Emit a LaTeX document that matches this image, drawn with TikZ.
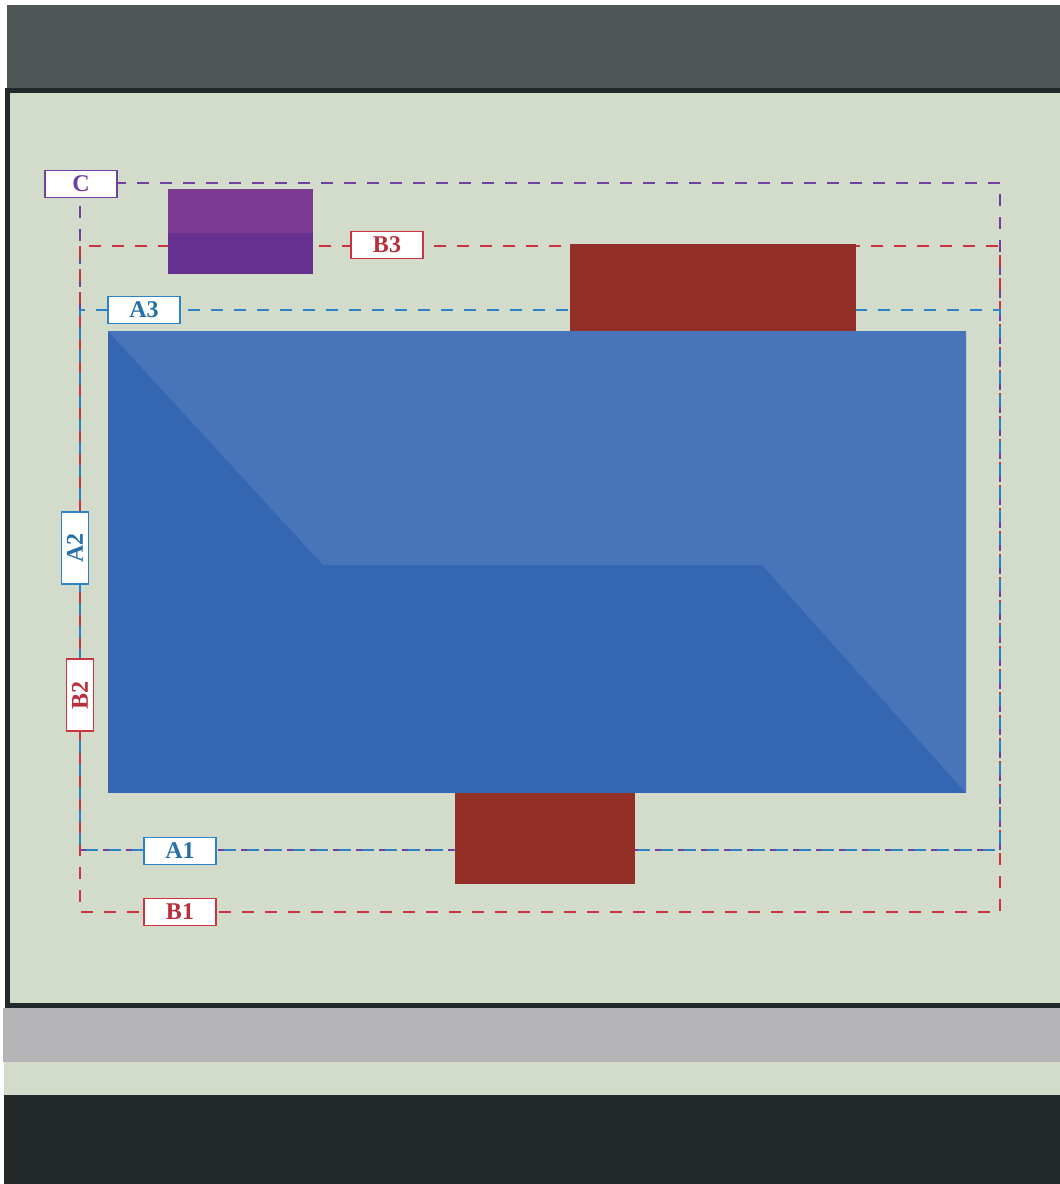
\documentclass[tikz,border=0pt]{standalone}
\usepackage{fontspec}
\setmainfont{Liberation Serif}
\usetikzlibrary{positioning}
\definecolor{fondoPanel}{HTML}{D3DCCB}
\definecolor{bordePanel}{HTML}{232828}
\definecolor{bandaSuperior}{HTML}{505656}
\definecolor{bandaGris}{HTML}{B4B3B5}
\definecolor{bandaOscura}{HTML}{232928}
\definecolor{azulOscuro}{HTML}{3466B2}
\definecolor{azulClaro}{HTML}{4874B9}
\definecolor{rojoBloque}{HTML}{922F26}
\definecolor{moradoClaro}{HTML}{7C3A93}
\definecolor{moradoOscuro}{HTML}{65308F}
\definecolor{colZonaA}{HTML}{2A84C6}
\definecolor{colZonaB}{HTML}{CC3340}
\definecolor{colZonaC}{HTML}{7040A0}
\tikzset{
  lineaZona/.style={line width=2.2pt, dash pattern=on 12pt off 11pt},
  etiquetaBase/.style={
    fill=white, line width=1.8pt,
    minimum width=72pt, minimum height=27pt, inner sep=0pt,
    font=\fontsize{24}{24}\selectfont\bfseries
  },
  etiquetaA/.style={etiquetaBase, draw=colZonaA, text=colZonaA!85!black},
  etiquetaB/.style={etiquetaBase, draw=colZonaB, text=colZonaB!90!black},
  etiquetaC/.style={etiquetaBase, draw=colZonaC, text=colZonaC},
}
\begin{document}
\begin{tikzpicture}[x=1pt, y=-1pt]
  \useasboundingbox (0,0) rectangle (1060,1184);
  \fill[white] (0,0) rectangle (1060,1184);
  % bandas de fondo
  \fill[bandaSuperior] (7,5) rectangle (1060,90);
  \fill[bandaGris] (3,1008) rectangle (1060,1062);
  \fill[fondoPanel] (4,1062) rectangle (1060,1095);
  \fill[bandaOscura] (4,1095) rectangle (1060,1184);
  \filldraw[fill=fondoPanel, draw=bordePanel, line width=5pt]
    (7.5,90.5) rectangle (1070,1005);

  % zonas punteadas
  \draw[lineaZona, colZonaC] (80,183) rectangle (1000,850);
  \draw[lineaZona, colZonaB] (80,246) rectangle (1000,912);
  \draw[lineaZona, colZonaA, dash phase=6pt] (80,310) rectangle (1000,850);

  % bloques
  \fill[azulOscuro] (108,331) rectangle (966,793);
  \fill[azulClaro] (108,331) -- (966,331) -- (966,793) -- (762,565)
    -- (323,565) -- cycle;
  \fill[rojoBloque] (570,244) rectangle (856,331);
  \fill[rojoBloque] (455,793) rectangle (635,884);
  \fill[moradoClaro] (168,189) rectangle (313,233);
  \fill[moradoOscuro] (168,233) rectangle (313,274);

  % etiquetas
  \node[etiquetaC] (c) at (81,184) {C};
  \node[etiquetaB] (b3) at (387,245) {B3};
  \node[etiquetaA] (a3) at (144,310) {A3};
  \node[etiquetaA, rotate=90] (a2) at (75,548) {A2};
  \node[etiquetaB, rotate=90] (b2) at (80,695) {B2};
  \node[etiquetaA] (a1) at (180,851) {A1};
  \node[etiquetaB] (b1) at (180,912) {B1};
\end{tikzpicture}
\end{document}
